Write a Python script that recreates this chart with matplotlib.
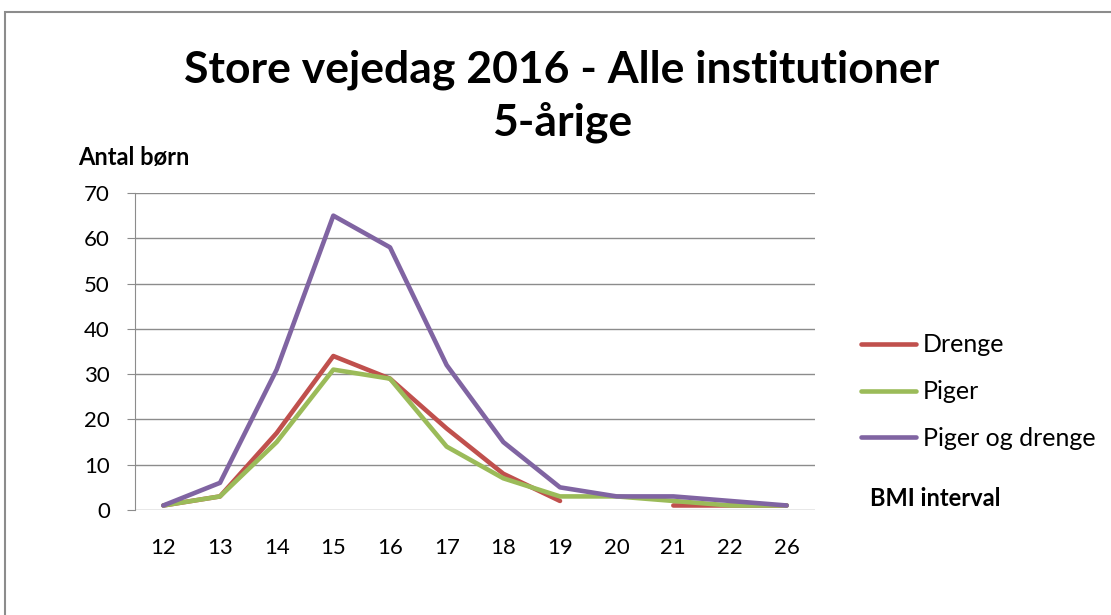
import numpy as np
import matplotlib
matplotlib.use("Agg")
import matplotlib.pyplot as plt
from matplotlib.patches import Rectangle

# data
bmi = ["12", "13", "14", "15", "16", "17", "18", "19", "20", "21", "22", "26"]
drenge = [1, 3, 17, 34, 29, 18, 8, 2, np.nan, 1, 1, 1]
piger = [1, 3, 15, 31, 29, 14, 7, 3, 3, 2, 1, 1]
begge = [1, 6, 31, 65, 58, 32, 15, 5, 3, 3, 2, 1]
yticks = [0, 10, 20, 30, 40, 50, 60, 70]

plt.rcParams['font.family'] = ['Lato', 'DejaVu Sans']

fig = plt.figure(figsize=(11.11, 6.15), dpi=100)
fig.patches.append(Rectangle((5/1111, -0.1), 1.2, 1 - 12/615 + 0.1, transform=fig.transFigure,
                             fill=False, edgecolor="#8c8c8c", linewidth=1.5))

ax = fig.add_axes([135/1111, 1 - 510/615, 680/1111, 317/615])
x = np.arange(len(bmi))
ax.plot(x, drenge, color="#C0504D", lw=3.3, label="Drenge", solid_capstyle="round")
ax.plot(x, piger, color="#9BBB59", lw=3.3, label="Piger", solid_capstyle="round")
ax.plot(x, begge, color="#8064A2", lw=3.3, label="Piger og drenge", solid_capstyle="round")

ax.set_xlim(-0.5, len(bmi) - 0.5)
ax.set_ylim(0, 70)
ax.set_yticks(yticks)
ax.set_xticks(x)
ax.set_xticklabels(bmi)
ax.yaxis.grid(True, color="#8c8c8c", lw=1)
ax.set_axisbelow(True)
for s in ["top", "right", "bottom"]:
    ax.spines[s].set_visible(False)
ax.spines["left"].set_color("#8c8c8c")
ax.tick_params(axis="y", length=6, color="#8c8c8c", labelsize=16, pad=12)
ax.tick_params(axis="x", length=0, labelsize=16, pad=20)

fig.text(562/1111, 1 - 70/615, "Store vejedag 2016 - Alle institutioner", ha="center", va="center",
         fontsize=32, fontweight="bold")
fig.text(562/1111, 1 - 122/615, "5-årige", ha="center", va="center", fontsize=32, fontweight="bold")
fig.text(78/1111, 1 - 158/615, "Antal børn", ha="left", va="center", fontsize=17, fontweight="bold")
fig.text(870/1111, 1 - 498/615, "BMI interval", ha="left", va="center", fontsize=17, fontweight="bold")

fig.legend(loc="upper left", bbox_to_anchor=(838/1111, 1 - 311/615), frameon=False, fontsize=18,
           handlelength=2.2, handletextpad=0.3, labelspacing=0.95)

fig.savefig("out.png", dpi=100)
